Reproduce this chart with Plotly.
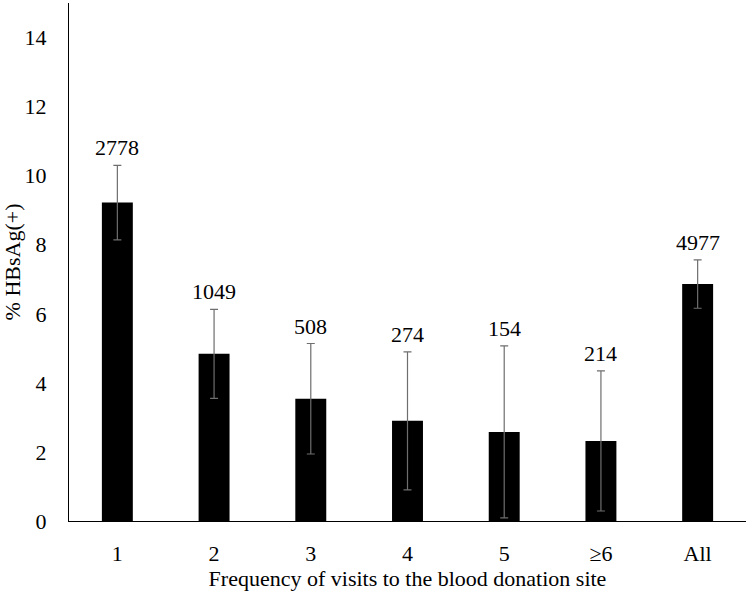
import plotly.graph_objects as go

# Data
categories = ["1", "2", "3", "4", "5", "≥6", "All"]
pct_hbsag = [9.22, 4.84, 3.54, 2.90, 2.58, 2.32, 6.86]
err = [1.08, 1.29, 1.60, 2.00, 2.49, 2.03, 0.70]
n_donors = [2778, 1049, 508, 274, 154, 214, 4977]

font_family = "Liberation Serif, Times New Roman, serif"

fig = go.Figure()

fig.add_trace(go.Bar(
    x=categories,
    y=pct_hbsag,
    marker_color="black",
    marker_line_width=0,
    error_y=dict(type="data", array=err, visible=True,
                 color="#6e6e6e", thickness=1.2, width=4),
    showlegend=False,
))

# sample sizes above the error bars (x given as category index)
for i, (val, e, n) in enumerate(zip(pct_hbsag, err, n_donors)):
    fig.add_annotation(
        x=i, y=val + e, text=str(n),
        showarrow=False, yanchor="bottom", yshift=3,
        font=dict(family=font_family, size=22, color="black"),
    )

fig.update_layout(
    width=750, height=601,
    margin=dict(l=69, r=4, t=3, b=80),
    plot_bgcolor="white",
    paper_bgcolor="white",
    bargap=0.68,
    font=dict(family=font_family, size=22, color="black"),
)

fig.update_xaxes(
    type="category",
    showline=True, linecolor="black", linewidth=1.2,
    ticks="", showgrid=False,
    ticklabelstandoff=12,
    title=dict(text="Frequency of visits to the blood donation site",
               font=dict(family=font_family, size=22), standoff=6),
)

fig.update_yaxes(
    range=[0, 15],
    tickvals=[0, 2, 4, 6, 8, 10, 12, 14],
    showline=True, linecolor="black", linewidth=1.2,
    ticks="", showgrid=False, zeroline=False,
    ticklabelstandoff=17,
    title=dict(text="% HBsAg(+)", font=dict(family=font_family, size=22),
               standoff=0),
)

# drop the browser's default body margin so the figure sits at the page corner
fig.write_html("out.html", config={"displayModeBar": False},
               post_script="document.body.style.margin='0';")
